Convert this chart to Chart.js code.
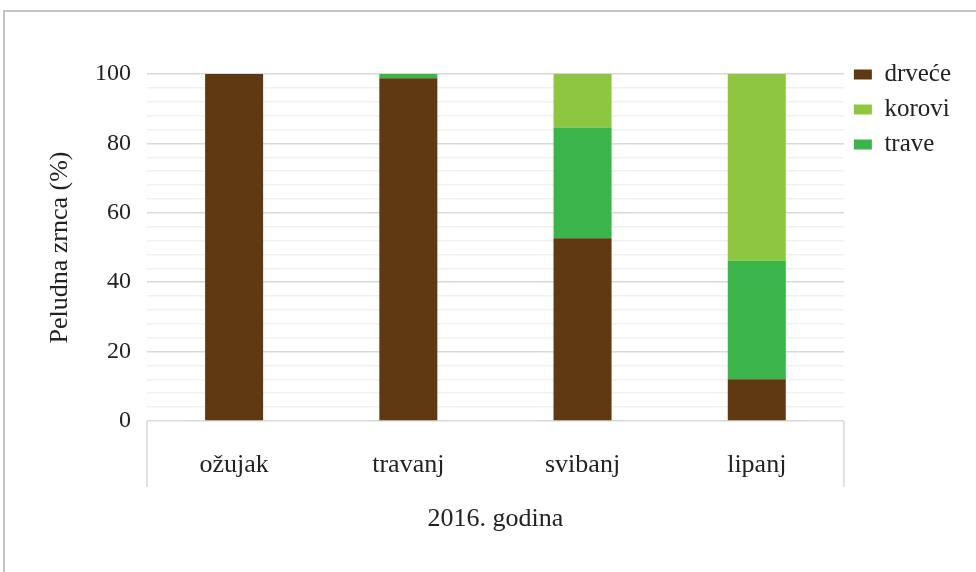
<!DOCTYPE html>
<html>
<head>
<meta charset="utf-8">
<script src="https://cdn.jsdelivr.net/npm/chart.js@4.4.0/dist/chart.umd.min.js"></script>
<style>
  body { margin: 0; background: #fff; }
  #wrap { position: relative; width: 976px; height: 572px; overflow: hidden; }
  #frame { position: absolute; left: 3px; top: 10px; width: 990px; height: 600px;
           border-left: 2px solid #c4c4c4; border-top: 2px solid #c4c4c4; }
  canvas { position: absolute; left: 0; top: 0; }
</style>
</head>
<body>
<div id="wrap">
  <div id="frame"></div>
  <canvas id="pollenChart" width="976" height="572"></canvas>
</div>
<script>
// months of 2016 and share of pollen grains (%)
const months = ["ožujak", "travanj", "svibanj", "lipanj"];
const drvece = [100, 98.8, 52.7, 12.0];
const trave = [0, 1.2, 31.9, 34.2];
const korovi = [0, 0, 15.4, 53.8];
const legendOrder = ["drveće", "korovi", "trave"];

const serif = "'Liberation Serif', 'Times New Roman', serif";
const textColor = "#222";

// grey box under the category labels
const categoryBox = {
  id: 'categoryBox',
  afterDraw(chart) {
    const ctx = chart.ctx;
    const area = chart.chartArea;
    const bottom = chart.scales.x.top + 66;
    ctx.save();
    ctx.strokeStyle = '#d9d9d9';
    ctx.lineWidth = 1.5;
    ctx.beginPath();
    ctx.moveTo(area.left, area.bottom);
    ctx.lineTo(area.left, bottom);
    ctx.moveTo(area.right, area.bottom);
    ctx.lineTo(area.right, bottom);
    ctx.stroke();
    ctx.restore();
  }
};

const pollenCanvas = document.getElementById("pollenChart");

const pollenData = {
  labels: months,
  datasets: [
    { label: 'drveće', data: drvece, backgroundColor: '#603913' },
    { label: 'trave', data: trave, backgroundColor: '#39b54a' },
    { label: 'korovi', data: korovi, backgroundColor: '#8dc63f' }
  ]
};

const pollenOptions = {
  responsive: false,
  animation: { duration: 0 },
  categoryPercentage: 1,
  barPercentage: 0.333,
  layout: { padding: { top: 52, right: 15, bottom: 37, left: 45 } },
  scales: {
    x: {
      stacked: true,
      grid: { display: false },
      border: { display: false },
      ticks: { padding: 21, color: textColor, font: { family: serif, size: 26 } },
      title: {
        display: true,
        text: '2016. godina',
        color: textColor,
        padding: { top: 0, bottom: 0 },
        font: { family: serif, size: 26 }
      },
      afterFit(scale) { scale.height = 114; }
    },
    y: {
      stacked: true,
      min: 0,
      max: 100,
      border: { display: false },
      grid: {
        drawTicks: false,
        lineWidth: 1.5,
        color: ctx => ctx.tick.value % 20 === 0 ? '#d9d9d9' : '#f1f1f1'
      },
      ticks: {
        stepSize: 4,
        autoSkip: false,
        padding: 16,
        color: textColor,
        font: { family: serif, size: 24 },
        callback: v => v % 20 === 0 ? v : ''
      },
      title: {
        display: true,
        text: 'Peludna zrnca (%)',
        color: textColor,
        padding: { top: 0, bottom: 0 },
        font: { family: serif, size: 26 }
      },
      afterFit(scale) {
        scale.width = 102;
        scale.paddingTop = 74;
      }
    }
  },
  plugins: {
    legend: {
      position: 'right',
      align: 'start',
      labels: {
        boxWidth: 18,
        boxHeight: 10,
        padding: 10,
        color: textColor,
        font: { family: serif, size: 25, lineHeight: 0.94 },
        sort: (a, b) => legendOrder.indexOf(a.text) - legendOrder.indexOf(b.text)
      }
    },
    tooltip: { enabled: false }
  }
};

let pollenChart = new Chart(pollenCanvas, {
  type: 'bar',
  data: pollenData,
  options: pollenOptions,
  plugins: [categoryBox]
});
</script>
</body>
</html>
